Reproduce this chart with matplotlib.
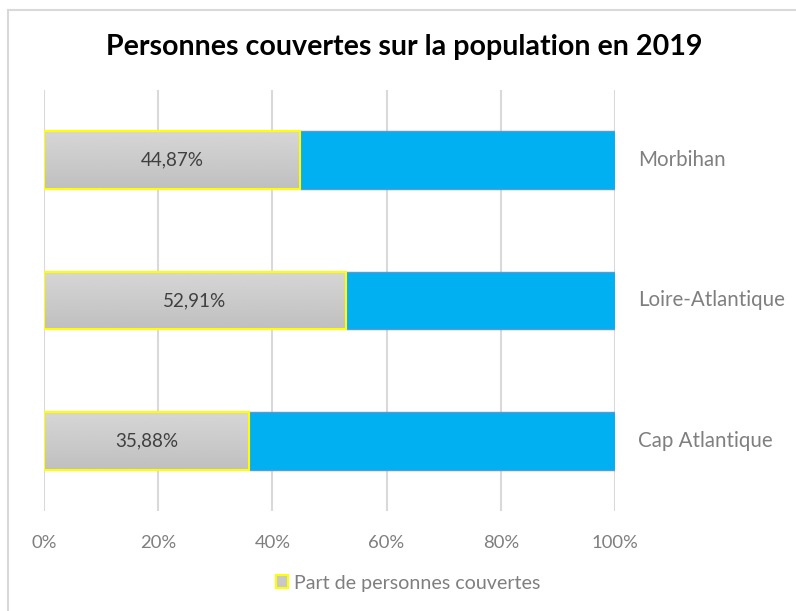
import numpy as np
import matplotlib
matplotlib.use("Agg")
import matplotlib.pyplot as plt
import matplotlib.ticker as mtick
from matplotlib.lines import Line2D
from matplotlib.patches import Patch

plt.rcParams['font.family'] = ['Lato', 'DejaVu Sans']

# data
categories = ["Cap Atlantique", "Loire-Atlantique", "Morbihan"]
covered = [35.88, 52.91, 44.87]
value_labels = ["35,88%", "52,91%", "44,87%"]
xticks = [0, 20, 40, 60, 80, 100]

gray = "#c8c8c8"
blue = "#00b0f0"
txt = "#7f7f7f"

fig = plt.figure(figsize=(7.96, 6.11), dpi=100)
ax = fig.add_axes([44 / 796, 1 - 511 / 611, (615 - 44) / 796, (511 - 90) / 611])

y = np.arange(len(categories))
rest = [100 - v for v in covered]
h = 0.41

ax.barh(y, rest, left=covered, height=h, color=blue, edgecolor="#5b9bd5",
        linewidth=1, zorder=2)
bars = ax.barh(y, covered, height=h, color="none", edgecolor="#ffff00",
               linewidth=1.5, zorder=4)

# gray gradient inside each covered bar
grad = np.linspace(0.84, 0.75, 64).reshape(-1, 1)
for b in bars:
    x0, y0 = b.get_x(), b.get_y()
    ax.imshow(grad, cmap="gray", vmin=0, vmax=1, aspect="auto",
              extent=(x0, x0 + b.get_width(), y0, y0 + b.get_height()),
              origin="upper", zorder=3, interpolation="bilinear")

for yi, v, lab in zip(y, covered, value_labels):
    ax.text(v / 2, yi, lab, ha="center", va="center", fontsize=13.6,
            color="#404040", zorder=5)

for yi, cat in zip(y, categories):
    ax.text(104, yi, cat, ha="left", va="center", fontsize=14.8, color=txt,
            clip_on=False)

ax.set_xlim(0, 100)
ax.set_ylim(-0.5, 2.5)
ax.set_xticks(xticks)
ax.xaxis.set_major_formatter(mtick.PercentFormatter(decimals=0))
ax.tick_params(axis="x", length=0, labelsize=13.3, labelcolor=txt, pad=17)
ax.set_yticks([])
ax.grid(axis="x", color="#d9d9d9", linewidth=1.5, zorder=0)
ax.set_axisbelow(True)
for s in ax.spines.values():
    s.set_visible(False)

fig.text(404 / 796, 1 - 47 / 611, "Personnes couvertes sur la population en 2019",
         ha="center", va="center", fontsize=20.6, fontweight="bold", color="black")

handle = Patch(facecolor=gray, edgecolor="#ffff00", linewidth=1.5)
fig.legend([handle], ["Part de personnes couvertes"], loc="center",
           bbox_to_anchor=(408 / 796, 1 - 583 / 611), frameon=False,
           fontsize=14.1, labelcolor=txt, handlelength=0.65, handleheight=0.65,
           handletextpad=0.3)

# chart frame (only top and left edges visible in reference)
fig.add_artist(Line2D([8 / 796, 8 / 796], [0, 1 - 10 / 611], color="#d9d9d9",
                      linewidth=1.5, transform=fig.transFigure))
fig.add_artist(Line2D([8 / 796, 1], [1 - 10 / 611, 1 - 10 / 611], color="#d9d9d9",
                      linewidth=1.5, transform=fig.transFigure))

fig.savefig("out.png", dpi=100)
